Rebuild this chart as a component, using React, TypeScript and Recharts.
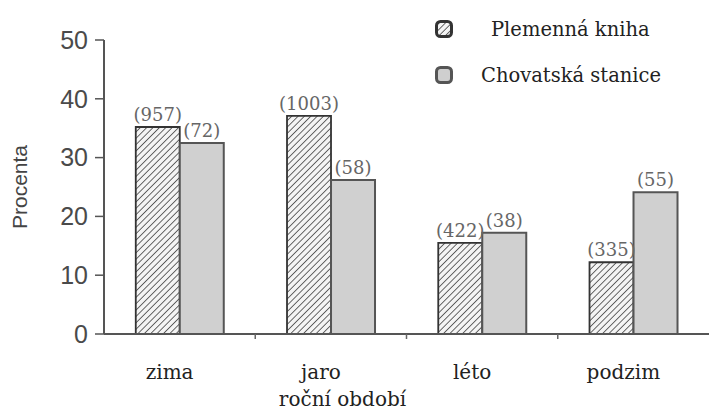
import React from 'react';
import { BarChart, Bar, XAxis, YAxis, LabelList, Label } from 'recharts';

const seasons = ['zima', 'jaro', 'léto', 'podzim'];
const plemennaKniha = [35.2, 37.1, 15.5, 12.2];
const chovatskaStanice = [32.5, 26.2, 17.2, 24.1];
const countsKniha = [957, 1003, 422, 335];
const countsStanice = [72, 58, 38, 55];
const yTicks = [0, 10, 20, 30, 40, 50];

const data = seasons.map((s, i) => ({
	season: s,
	kniha: plemennaKniha[i],
	stanice: chovatskaStanice[i],
	nKniha: countsKniha[i],
	nStanice: countsStanice[i],
}));

const serif = '"DejaVu Serif", "Liberation Serif", serif';
const sans = '"Liberation Sans", Arial, sans-serif';

function SeasonTick(props: any) {
	const { x, y, payload, index } = props;
	const half = payload && payload.offset ? payload.offset : 0;
	return (
		<g>
			{index > 0 && <line x1={x - half} x2={x - half} y1={y - 8} y2={y - 3} stroke="#666" strokeWidth={1.5} />}
			<text x={x - 10} y={y + 37} textAnchor="middle" fontFamily={serif} fontSize={20} fill="#222">
				{payload.value}
			</text>
		</g>
	);
}

function LegendBox() {
	return (
		<div style={{ position: 'absolute', left: 435, top: 6, fontFamily: serif, fontSize: 19.5, color: '#222' }}>
			<div style={{ display: 'flex', alignItems: 'center', height: 46 }}>
				<svg width={18} height={18} style={{ marginRight: 38 }}>
					<rect x={1.5} y={1.5} width={15} height={15} rx={4} fill="url(#hatch)" stroke="#333" strokeWidth={3} />
				</svg>
				<span>Plemenná kniha</span>
			</div>
			<div style={{ display: 'flex', alignItems: 'center', height: 46 }}>
				<svg width={18} height={18} style={{ marginRight: 28 }}>
					<rect x={1.5} y={1.5} width={15} height={15} rx={4} fill="#cfcfcf" stroke="#555" strokeWidth={3} />
				</svg>
				<span>Chovatská stanice</span>
			</div>
		</div>
	);
}

export default function App() {
	return (
		<div style={{ position: 'absolute', left: 0, top: 0, width: 709, height: 412, background: '#fff' }}>
			<BarChart
				width={709}
				height={412}
				data={data}
				barGap={0}
				barCategoryGap="21%"
				margin={{ top: 40, right: 0, left: 0, bottom: 0 }}
			>
				<defs>
					<pattern id="hatch" patternUnits="userSpaceOnUse" width={4.5} height={4.5} patternTransform="rotate(45)">
						<rect width={4.5} height={4.5} fill="#f4f4f4" />
						<line x1={0} y1={0} x2={0} y2={4.5} stroke="#444" strokeWidth={1.6} />
					</pattern>
				</defs>
				<XAxis
					dataKey="season"
					height={78}
					axisLine={{ stroke: '#555', strokeWidth: 2 }}
					tickLine={false}
					tick={<SeasonTick />}
					interval={0}
				>
					<Label
						value="roční období"
						position="insideBottom"
						offset={6}
						dx={-64}
						style={{ fontFamily: serif, fontSize: 20, fill: '#222' }}
					/>
				</XAxis>
				<YAxis
					width={104}
					domain={[0, 50]}
					ticks={yTicks}
					interval={0}
					axisLine={{ stroke: '#555', strokeWidth: 2 }}
					tickLine={{ stroke: '#555', strokeWidth: 1.5 }}
					tickSize={9}
					tickMargin={7}
					tick={{ fontFamily: sans, fontSize: 25, fill: '#4a4a4a' }}
				>
					<Label
						value="Procenta"
						angle={-90}
						position="insideLeft"
						offset={20}
						style={{ fontFamily: sans, fontSize: 21, fill: '#444', textAnchor: 'middle' }}
					/>
				</YAxis>
				<Bar dataKey="kniha" fill="url(#hatch)" stroke="#333" strokeWidth={1.8} isAnimationActive={false}>
					<LabelList
						dataKey="nKniha"
						position="top"
						offset={6}
						formatter={(v: any) => `(${v})`}
						style={{ fontFamily: serif, fontSize: 18, fill: '#666' }}
					/>
				</Bar>
				<Bar dataKey="stanice" fill="#d0d0d0" stroke="#555" strokeWidth={2} isAnimationActive={false}>
					<LabelList
						dataKey="nStanice"
						position="top"
						offset={6}
						formatter={(v: any) => `(${v})`}
						style={{ fontFamily: serif, fontSize: 18, fill: '#666' }}
					/>
				</Bar>
			</BarChart>
			<LegendBox />
		</div>
	);
}
